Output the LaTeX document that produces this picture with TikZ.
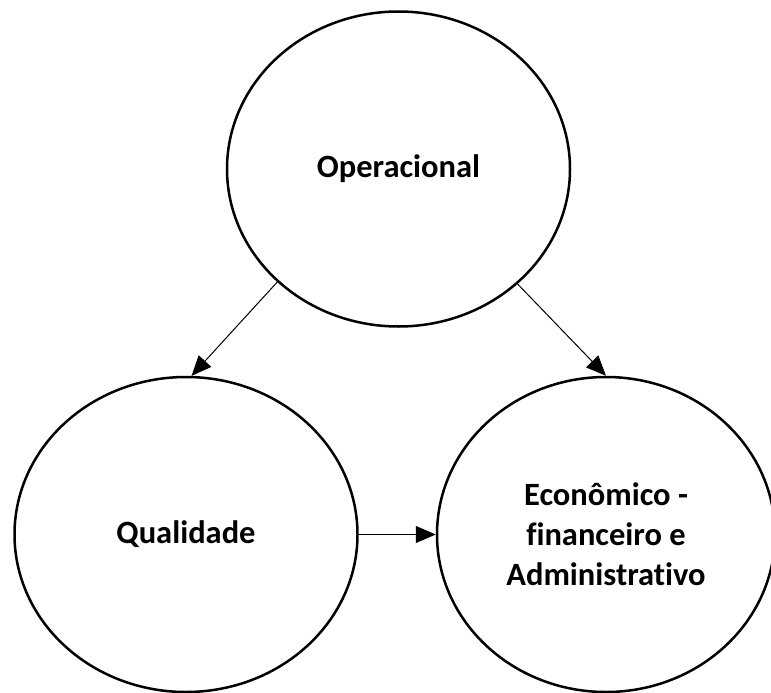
\documentclass[tikz,border=0pt]{standalone}
\usepackage{fontspec}
\setmainfont{Carlito}[Ligatures={NoCommon}]
\usetikzlibrary{shapes.geometric,arrows.meta}
\begin{document}
\begin{tikzpicture}[x=1pt,y=-1pt,
  bubble/.style={ellipse,draw=black,line width=2.5pt,inner sep=0pt,
    minimum width=343pt,minimum height=315pt,align=center,
    font=\fontsize{32.5}{40}\selectfont\bfseries},
  conn/.style={line width=1pt,-{Triangle[length=20pt,width=17pt]}}]
\useasboundingbox (0,0) rectangle (771,693);
\node[bubble] (op) at (398.5,169) {Operacional};
\node[bubble] (ql) at (186,534.5) {Qualidade};
\node[bubble,minimum width=338pt] (ec) at (606,534.5) {Econômico -\\financeiro e\\Administrativo};
\draw[conn] (op.223.2) -- (ql.88);
\draw[conn] (op.316.8) -- (ec.north);
\draw[conn] (ql.east) -- (ec.west);
\end{tikzpicture}
\end{document}
